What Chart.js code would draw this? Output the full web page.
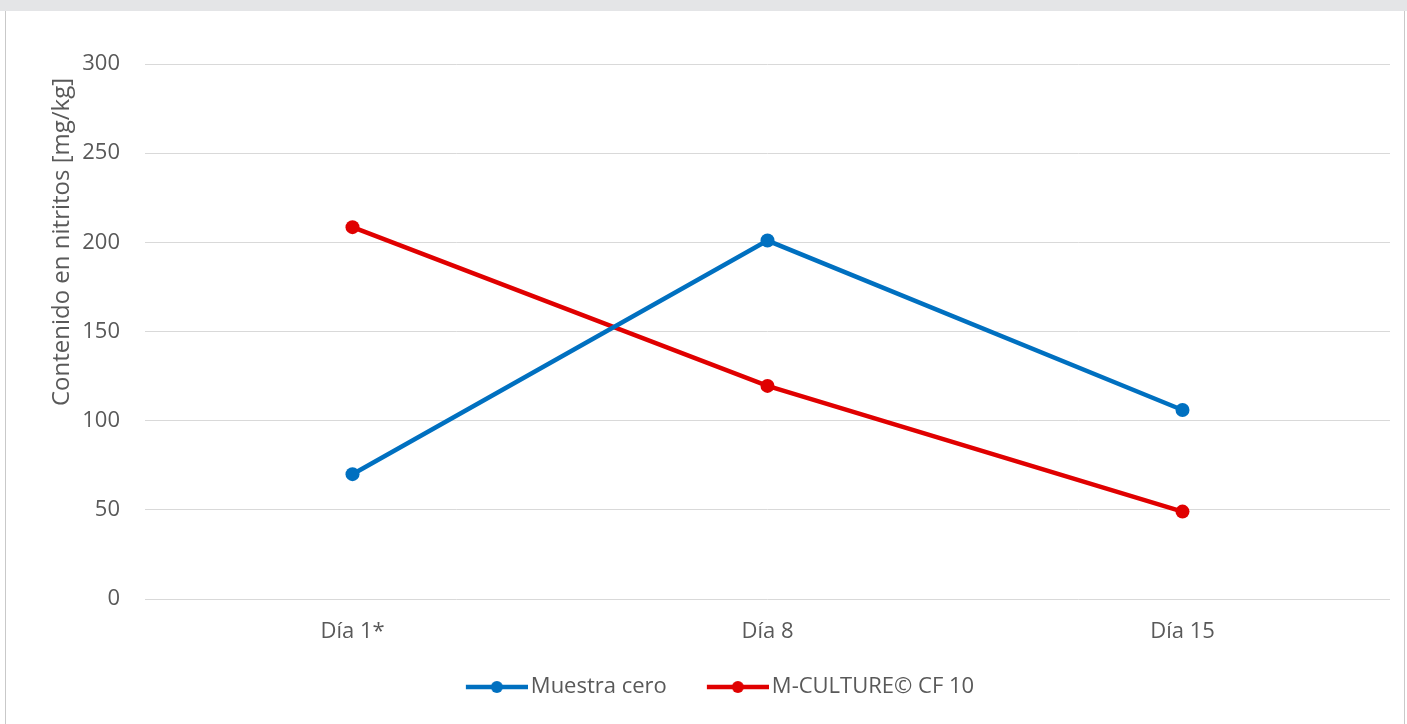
<!DOCTYPE html>
<html>
<head>
<meta charset="utf-8">
<script src="https://cdn.jsdelivr.net/npm/chart.js@4/dist/chart.umd.min.js"></script>
<style>
  html, body { margin: 0; padding: 0; background: #ffffff; }
  #frame { position: relative; width: 1407px; height: 724px; overflow: hidden; background: #ffffff; }
  #band { position: absolute; left: 0; top: 0; width: 1407px; height: 11px; background: #e4e5e7; }
  #edgeL { position: absolute; left: 5px; top: 11px; width: 1px; height: 713px; background: #c9c9c9; }
  #edgeR { position: absolute; left: 1404px; top: 11px; width: 1px; height: 713px; background: #c9c9c9; }
  #wrap { position: absolute; left: 0; top: 0; width: 1407px; height: 724px; }
</style>
</head>
<body>
<div id="frame">
  <div id="band"></div>
  <div id="edgeL"></div>
  <div id="edgeR"></div>
  <div id="wrap"><canvas id="nitritosChart"></canvas></div>
</div>
<script>
// Datos
const dias = ["Día 1*", "Día 8", "Día 15"];
const muestraCero = [70, 201, 106];
const mCulture = [208.5, 119.5, 49];
const nombres = ["Muestra cero", "M-CULTURE\u00a9 CF 10"];
const colores = ["#0070C0", "#E00000"];
const yTicks = [0, 50, 100, 150, 200, 250, 300];
const tituloY = "Contenido en nitritos [mg/kg]";

const fuente = "'Open Sans', 'Noto Sans', sans-serif";
const gris = "#595959";

// Marcador de leyenda: línea con punto, estilo Excel
function marcador(color) {
    const c = document.createElement("canvas");
    c.width = 100;
    c.height = 16;
    const ctx = c.getContext("2d");
    ctx.strokeStyle = color;
    ctx.lineWidth = 4.5;
    ctx.beginPath();
    ctx.moveTo(38, 8);
    ctx.lineTo(100, 8);
    ctx.stroke();
    ctx.fillStyle = color;
    ctx.beginPath();
    ctx.arc(69, 8, 6, 0, Math.PI * 2);
    ctx.fill();
    return c;
}

// Título del eje Y dibujado a mano (en el original no está centrado)
const tituloEjeY = {
    id: "tituloEjeY",
    afterDraw(chart) {
        const ctx = chart.ctx;
        ctx.save();
        ctx.translate(62, 242);
        ctx.rotate(-Math.PI / 2);
        ctx.font = "24px " + fuente;
        ctx.fillStyle = gris;
        ctx.textAlign = "center";
        ctx.textBaseline = "middle";
        ctx.fillText(tituloY, 0, 0);
        ctx.restore();
    }
};

const ctx = document.getElementById("nitritosChart").getContext("2d");
new Chart(ctx, {
    type: "line",
    data: {
        labels: dias,
        datasets: [
            { label: nombres[0], data: muestraCero, borderColor: colores[0], backgroundColor: colores[0] },
            { label: nombres[1], data: mCulture, borderColor: colores[1], backgroundColor: colores[1] }
        ]
    },
    options: {
        responsive: true,
        maintainAspectRatio: false,
        animation: false,
        events: [],
        elements: {
            line: { borderWidth: 4.5, tension: 0 },
            point: { radius: 7, borderWidth: 0, pointStyle: "circle" }
        },
        layout: { padding: { left: 20, right: 17, top: 64, bottom: 16 } },
        scales: {
            x: {
                offset: true,
                grid: { display: false, drawTicks: false },
                border: { display: false },
                ticks: { color: gris, font: { family: fuente, size: 22 }, padding: 20 },
                afterFit(scale) { scale.height = 67; }
            },
            y: {
                min: 0,
                max: 300,
                afterBuildTicks(scale) { scale.ticks = yTicks.map(v => ({ value: v })); },
                grid: { color: "#d9d9d9", lineWidth: 1, drawTicks: false },
                border: { display: false },
                ticks: { color: gris, font: { family: fuente, size: 22 }, padding: 25 },
                afterFit(scale) { scale.width = 125; }
            }
        },
        plugins: {
            tooltip: { enabled: false },
            legend: {
                position: "bottom",
                labels: {
                    color: gris,
                    font: { family: fuente, size: 22 },
                    padding: 10,
                    usePointStyle: true,
                    pointStyleWidth: 84,
                    generateLabels(chart) {
                        return chart.data.datasets.map((ds, i) => ({
                            text: ds.label,
                            fillStyle: ds.borderColor,
                            strokeStyle: ds.borderColor,
                            fontColor: gris,
                            lineWidth: 0,
                            pointStyle: marcador(ds.borderColor),
                            datasetIndex: i,
                            hidden: false
                        }));
                    }
                }
            }
        }
    },
    plugins: [tituloEjeY]
});
</script>
</body>
</html>
